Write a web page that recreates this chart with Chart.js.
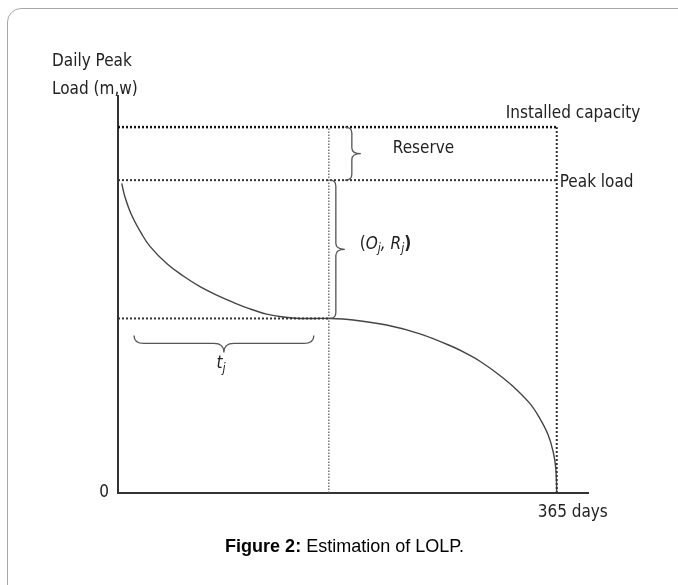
<!DOCTYPE html>
<html>
<head>
<meta charset="utf-8">
<script src="https://cdn.jsdelivr.net/npm/chart.js@4.4.1/dist/chart.umd.min.js"></script>
<style>
  html, body { margin: 0; padding: 0; background: #fff; overflow: hidden; }
  #wrap { position: relative; width: 678px; height: 585px; }
  #frame {
    position: absolute; left: 7px; top: 8px; width: 720px; height: 700px;
    border: 1px solid #a8a8a8; border-radius: 14px; box-sizing: border-box;
  }
  #chart { position: absolute; left: 0; top: 0; }
</style>
</head>
<body>
<div id="wrap">
  <div id="frame"></div>
  <canvas id="chart" width="678" height="585"></canvas>
</div>
<script>
// load duration curve (days, MW)
var loadDays = [3.1, 5.8, 11.4, 19.7, 26.6, 40.5, 54.3, 68.2, 82.1, 95.9, 109.8, 123.7, 137.5,
  151.4, 175.4, 195.7, 223.5, 251.2, 278.9, 292.8, 301.1, 315, 328.8, 342.6, 350.9, 357.8,
  362, 364.2, 365];
var loadMW = [84.6, 80.9, 75.9, 70.8, 67.4, 62.7, 59.3, 56.4, 54.1, 52.1, 50.3, 48.9, 48.1,
  47.7, 47.7, 47.3, 45.9, 43.5, 39.9, 37.6, 36.0, 32.8, 29.1, 24.5, 20.4, 15.9,
  11.3, 6.8, 0];

var installedCapacity = 100;
var peakLoad = 85.5;
var outageLevel = 47.7;   // O_j level
var outageDays = 175.4;   // t_j
var yearDays = 365;
var xMax = 391;
var yMax = 108.5;
var xTicks = [365];
var xTickLabels = ['365 days'];
var yTicks = [0];
var yTickLabels = ['0'];

var FONT = '"DejaVu Sans Condensed", "DejaVu Sans", sans-serif';
var INK = '#222';

function pts(xs, ys) {
  return xs.map(function (x, i) { return { x: x, y: ys[i] }; });
}

function dotted(data, width, color, dash) {
  return {
    data: data, showLine: true, pointRadius: 0, fill: false,
    borderColor: color, borderWidth: width, borderDash: dash || [2, 2],
    borderCapStyle: 'butt'
  };
}

// "}" style brace; ends at e, spine at s, tip at t (along the cross axis)
function vBrace(ctx, e, s, t, y1, y2) {
  var ym = (y1 + y2) / 2, r = 6;
  ctx.beginPath();
  ctx.moveTo(e, y1);
  ctx.quadraticCurveTo(s, y1, s, y1 + r);
  ctx.lineTo(s, ym - r);
  ctx.quadraticCurveTo(s, ym, t, ym);
  ctx.quadraticCurveTo(s, ym, s, ym + r);
  ctx.lineTo(s, y2 - r);
  ctx.quadraticCurveTo(s, y2, e, y2);
  ctx.stroke();
}

function hBrace(ctx, e, s, t, x1, x2) {
  var xm = (x1 + x2) / 2, r = 10;
  ctx.beginPath();
  ctx.moveTo(x1, e);
  ctx.quadraticCurveTo(x1, s, x1 + r, s);
  ctx.lineTo(xm - r, s);
  ctx.quadraticCurveTo(xm, s, xm, t);
  ctx.quadraticCurveTo(xm, s, xm + r, s);
  ctx.lineTo(x2 - r, s);
  ctx.quadraticCurveTo(x2, s, x2, e);
  ctx.stroke();
}

function label(ctx, str, x, y, font, align) {
  ctx.font = font;
  ctx.textAlign = align || 'left';
  ctx.textBaseline = 'middle';
  ctx.fillText(str, x, y);
  return ctx.measureText(str).width;
}

var notes = {
  id: 'notes',
  afterDraw: function (chart) {
    var ctx = chart.ctx, xs = chart.scales.x, ys = chart.scales.y, a = chart.chartArea;
    var xT = xs.getPixelForValue(outageDays), xY = xs.getPixelForValue(yearDays);
    var yI = ys.getPixelForValue(installedCapacity), yP = ys.getPixelForValue(peakLoad);
    var yO = ys.getPixelForValue(outageLevel);
    ctx.save();
    ctx.strokeStyle = '#555';
    ctx.lineWidth = 1.3;
    vBrace(ctx, xT + 16, xT + 23, xT + 32, yI, yP);
    vBrace(ctx, xT + 1, xT + 7, xT + 16, yP, yO);
    hBrace(ctx, yO + 17, yO + 25, yO + 34, a.left + 16, xT - 15);

    ctx.fillStyle = INK;
    var f = '17px ' + FONT;
    label(ctx, 'Daily Peak', a.left - 66, a.top - 34, f);
    label(ctx, 'Load (m,w)', a.left - 66, a.top - 6, f);
    label(ctx, 'Installed capacity', xY - 51, yI - 14, f);
    label(ctx, 'Peak load', xY + 3, yP + 2, f);
    label(ctx, 'Reserve', xT + 64, (yI + yP) / 2 - 5, f);

    // (O_j, R_j)
    var it = 'italic 17px ' + FONT, sub = 'italic 12px ' + FONT;
    var x = xT + 31, y = (yP + yO) / 2 - 5;
    x += label(ctx, '(', x, y, '17px ' + FONT);
    x += label(ctx, 'O', x, y, it);
    x += label(ctx, 'j', x, y + 5, sub);
    x += label(ctx, ', ', x, y, it);
    x += label(ctx, 'R', x, y, it);
    x += label(ctx, 'j', x, y + 5, sub);
    label(ctx, ')', x, y, 'bold 17px ' + FONT);

    // t_j
    var tx = (a.left + xT) / 2 - 7, ty = yO + 45;
    tx += label(ctx, 't', tx, ty, 'italic 17px ' + FONT);
    label(ctx, 'j', tx, ty + 5, sub);

    // caption
    ctx.fillStyle = '#000';
    ctx.font = 'bold 18px "Liberation Sans", Arial, sans-serif';
    var w1 = ctx.measureText('Figure 2:').width;
    ctx.font = '18px "Liberation Sans", Arial, sans-serif';
    var w2 = ctx.measureText(' Estimation of LOLP.').width;
    var cx = 344.5 - (w1 + w2) / 2;
    label(ctx, 'Figure 2:', cx, 547, 'bold 18px "Liberation Sans", Arial, sans-serif');
    label(ctx, ' Estimation of LOLP.', cx + w1, 547, '18px "Liberation Sans", Arial, sans-serif');
    ctx.restore();
  }
};

new Chart(document.getElementById('chart'), {
  type: 'scatter',
  data: {
    datasets: [
      dotted(pts([0, yearDays], [installedCapacity, installedCapacity]), 2.5, '#111'),
      dotted(pts([0, yearDays], [peakLoad, peakLoad]), 2, '#333'),
      dotted(pts([0, outageDays], [outageLevel, outageLevel]), 2, '#333'),
      dotted(pts([outageDays, outageDays], [0, installedCapacity]), 1.2, '#555', [1.5, 1.5]),
      dotted(pts([yearDays, yearDays], [0, installedCapacity]), 2, '#333'),
      {
        data: pts(loadDays, loadMW), showLine: true, pointRadius: 0, fill: false,
        borderColor: '#444', borderWidth: 1.4, tension: 0.4
      }
    ]
  },
  options: {
    responsive: false,
    animation: false,
    layout: { padding: { top: 96, right: 90, bottom: 0, left: 0 } },
    plugins: { legend: { display: false }, tooltip: { enabled: false } },
    scales: {
      x: {
        type: 'linear', min: 0, max: xMax,
        afterFit: function (s) { s.height = 92; },
        afterBuildTicks: function (s) { s.ticks = xTicks.map(function (v) { return { value: v }; }); },
        grid: { display: false, drawTicks: false },
        border: { display: true, color: '#333', width: 2 },
        ticks: {
          padding: 9, labelOffset: 16, maxRotation: 0, color: INK,
          font: { family: FONT, size: 17 },
          callback: function (v) { return xTickLabels[xTicks.indexOf(v)]; }
        }
      },
      y: {
        type: 'linear', min: 0, max: yMax,
        afterFit: function (s) { s.width = 118; },
        afterBuildTicks: function (s) { s.ticks = yTicks.map(function (v) { return { value: v }; }); },
        grid: { display: false, drawTicks: false },
        border: { display: true, color: '#333', width: 2 },
        ticks: {
          padding: 9, color: INK,
          font: { family: FONT, size: 17 },
          callback: function (v) { return yTickLabels[yTicks.indexOf(v)]; }
        }
      }
    }
  },
  plugins: [notes]
});
</script>
</body>
</html>
